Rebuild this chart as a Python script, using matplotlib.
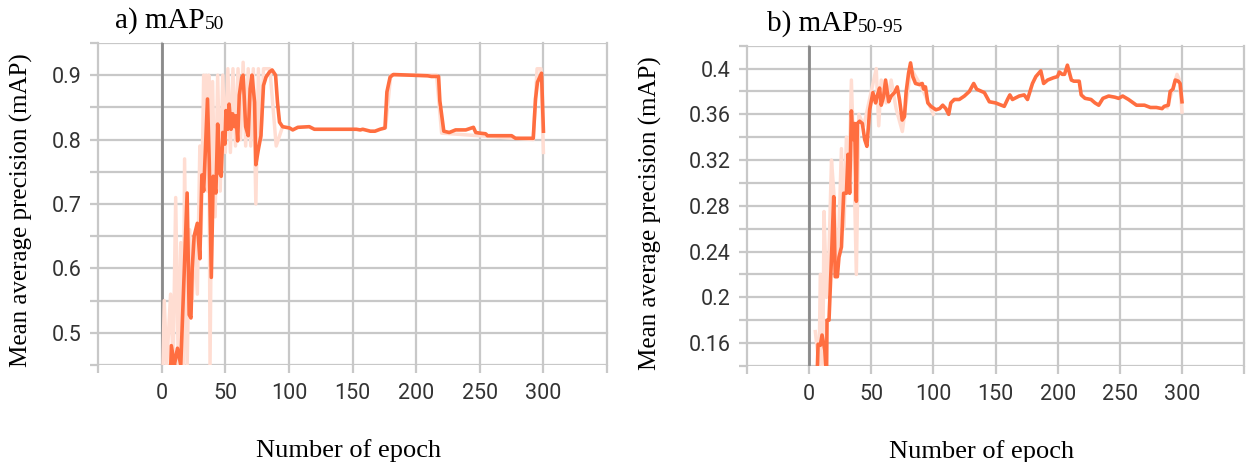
import numpy as np
import matplotlib
matplotlib.use("Agg")
import matplotlib.pyplot as plt
from matplotlib.ticker import FixedLocator, MultipleLocator, FuncFormatter

# ---- mAP50 (smoothed) ----
ep50 = [7, 7.6, 10, 12.4, 15, 20, 21.6, 23, 24, 25.5, 28, 30, 31.6, 33, 36, 37.4, 39,
        40.5, 42.6, 44, 45.5, 46.8, 48, 49.7, 50.5, 52, 53, 54.5, 55.8, 57, 58.4, 59.7,
        61, 63, 64, 66, 68, 69.5, 71, 73, 74, 76, 78, 80, 82, 84.7, 86.8, 89.5, 91,
        92.6, 95, 100.5, 103, 107, 116, 120, 153, 156, 158, 164, 167.6, 171.6, 175.5,
        177, 179.5, 182, 209, 212, 217.6, 218.6, 221.7, 226, 231, 239, 245, 246.8, 250,
        254.6, 256, 275, 278, 292, 293.8, 295.3, 298.5, 300]
map50 = [0.44, 0.48, 0.45, 0.476, 0.45, 0.717, 0.528, 0.523, 0.60, 0.65, 0.67, 0.615,
         0.745, 0.72, 0.863, 0.764, 0.586, 0.743, 0.717, 0.824, 0.748, 0.743, 0.811,
         0.793, 0.845, 0.816, 0.855, 0.816, 0.84, 0.82, 0.837, 0.798, 0.869, 0.897, 0.90,
         0.82, 0.806, 0.879, 0.90, 0.858, 0.761, 0.785, 0.806, 0.884, 0.897, 0.905, 0.908,
         0.90, 0.858, 0.827, 0.82, 0.818, 0.815, 0.819, 0.82, 0.816, 0.816, 0.815, 0.816,
         0.813, 0.813, 0.816, 0.818, 0.874, 0.897, 0.901, 0.899, 0.898, 0.898, 0.86,
         0.813, 0.811, 0.815, 0.815, 0.819, 0.811, 0.81, 0.809, 0.806, 0.806, 0.802,
         0.802, 0.863, 0.889, 0.903, 0.813]

# ---- mAP50 (raw, faint) ----
ep50_raw = [1, 2, 4, 7, 9, 11, 13, 15, 17, 18, 20, 22, 24, 26, 28, 30, 31, 33, 34, 35,
            36, 37, 38, 40, 42, 44, 46, 48, 50, 52, 54, 56, 58, 60, 62, 64, 66, 68, 70,
            72, 74, 76, 78, 80, 85, 90, 95]
map50_raw = [0.45, 0.55, 0.45, 0.56, 0.45, 0.71, 0.45, 0.64, 0.45, 0.77, 0.45, 0.66,
             0.55, 0.65, 0.56, 0.79, 0.65, 0.90, 0.75, 0.90, 0.72, 0.90, 0.45, 0.89,
             0.68, 0.90, 0.72, 0.90, 0.78, 0.91, 0.78, 0.91, 0.79, 0.91, 0.80, 0.92, 0.79,
             0.91, 0.79, 0.91, 0.70, 0.91, 0.80, 0.91, 0.91, 0.79, 0.82]
ep50_tail = [176, 180, 216, 220, 292, 295, 298, 300]
map50_tail = [0.82, 0.90, 0.90, 0.81, 0.80, 0.91, 0.91, 0.78]

# ---- mAP50-95 (smoothed) ----
ep5095 = [6.4, 7.2, 9, 10.4, 12.6, 14, 14.4, 16, 18, 19.8, 21, 22.7, 24, 26, 27.8, 30,
          31.3, 32.6, 34, 35.3, 36.6, 38, 38.8, 40.6, 42.8, 44.7, 46.5, 48.7, 51.3, 53.5,
          54.8, 56.7, 58, 60, 61.5, 64, 66, 68.7, 70.9, 72.7, 74.9, 76.7, 78, 80, 81.6,
          83.4, 85.6, 88.8, 91, 92.2, 93.6, 95.5, 98, 102, 105, 107.5, 110, 112.3, 114,
          116.8, 120.8, 124.9, 128.9, 132.4, 134.8, 141, 145, 150, 157, 159.6, 161.5,
          163.6, 169, 173, 175.7, 179.7, 182.4, 184, 186.4, 188.7, 191.9, 196.6, 199.8,
          201.4, 203.6, 205.5, 207.8, 211, 213, 217.3, 218.9, 222, 226.8, 230, 233, 236.4,
          241, 246, 249, 252.3, 257, 263.4, 269.8, 274.6, 279.4, 284, 285.7, 289, 290.5,
          292.7, 294.6, 297, 298.5, 300]
map5095 = [0.13, 0.159, 0.158, 0.167, 0.154, 0.13, 0.18, 0.18, 0.235, 0.288, 0.218,
           0.218, 0.235, 0.244, 0.291, 0.291, 0.325, 0.291, 0.363, 0.338, 0.352, 0.284,
           0.352, 0.354, 0.352, 0.338, 0.332, 0.364, 0.379, 0.37, 0.376, 0.383, 0.368,
           0.376, 0.39, 0.371, 0.376, 0.379, 0.384, 0.373, 0.355, 0.358, 0.379, 0.396,
           0.405, 0.393, 0.387, 0.386, 0.387, 0.382, 0.384, 0.37, 0.367, 0.364, 0.365,
           0.368, 0.365, 0.36, 0.37, 0.373, 0.373, 0.376, 0.38, 0.387, 0.382, 0.379, 0.371,
           0.37, 0.367, 0.373, 0.377, 0.373, 0.376, 0.377, 0.373, 0.387, 0.393, 0.395,
           0.398, 0.387, 0.39, 0.392, 0.393, 0.397, 0.395, 0.395, 0.403, 0.39, 0.389,
           0.389, 0.377, 0.374, 0.373, 0.37, 0.368, 0.374, 0.376, 0.375, 0.374, 0.376,
           0.373, 0.368, 0.368, 0.366, 0.366, 0.365, 0.367, 0.368, 0.38, 0.382, 0.39,
           0.389, 0.387, 0.371]

# ---- mAP50-95 (raw, faint) ----
ep5095_raw = [5, 8, 9, 11, 12, 14, 16, 18, 20, 22, 24, 26, 28, 30, 32, 34, 36, 38, 40,
              44, 50, 54, 56, 58, 62, 66, 70, 75, 78, 82, 90, 100]
map5095_raw = [0.17, 0.14, 0.22, 0.14, 0.275, 0.20, 0.24, 0.32, 0.29, 0.23, 0.26, 0.33,
               0.26, 0.34, 0.30, 0.39, 0.32, 0.22, 0.36, 0.35, 0.38, 0.40, 0.35, 0.39,
               0.37, 0.39, 0.365, 0.345, 0.37, 0.40, 0.385, 0.36]
ep5095_tail = [288, 292, 296, 298, 300]
map5095_tail = [0.366, 0.38, 0.395, 0.39, 0.362]

x_ticks = [-50, 0, 50, 100, 150, 200, 250, 300, 350]
x_labels = ["", "0", "50", "100", "150", "200", "250", "300", ""]

LINE = "#ff6e40"
RAW = "#ffddd2"
GRID = "#c8c8c8"
SERIF = "Liberation Serif"

fig = plt.figure(figsize=(12.46, 4.62), dpi=100)
ax1 = fig.add_axes([0.0787, 0.21, 0.4085, 0.697])
ax2 = fig.add_axes([0.5995, 0.208, 0.399, 0.693])


def style(ax, ylim, yticks, minor):
    ax.set_xlim(-50, 350)
    ax.set_ylim(*ylim)
    ax.xaxis.set_major_locator(FixedLocator(x_ticks))
    ax.set_xticklabels(x_labels)
    ax.set_yticks(yticks)
    ax.yaxis.set_major_formatter(FuncFormatter(lambda v, p: f"{v:g}"))
    ax.yaxis.set_minor_locator(MultipleLocator(minor))
    for s in ax.spines.values():
        s.set_visible(False)
    ax.grid(True, which="both", color=GRID, lw=1.6)
    for ln in ax.get_xgridlines() + ax.get_ygridlines():
        ln.set_clip_on(False)
    ax.tick_params(which="both", color=GRID, width=1.6, length=6,
                   labelcolor="#333333", labelsize=15.5)
    ax.tick_params(axis="x", pad=7)
    ax.tick_params(axis="y", pad=6)
    for lab in ax.get_xticklabels() + ax.get_yticklabels():
        lab.set_family("Roboto")
    ax.axvline(0, color="#8a8a8a", lw=2, zorder=1.5)
    ax.set_axisbelow(True)
    ax.set_xlabel("Number of epoch", family=SERIF, fontsize=19)
    ax.set_ylabel("Mean average precision (mAP)", family=SERIF, fontsize=18)


style(ax1, (0.45, 0.95), [0.5, 0.6, 0.7, 0.8, 0.9], 0.05)
ax1.plot(ep50_raw, map50_raw, color=RAW, lw=2.5, zorder=2)
ax1.plot(ep50_tail, map50_tail, color=RAW, lw=2.5, zorder=2)
ax1.plot(ep50, map50, color=LINE, lw=2.6, zorder=3)
ax1.xaxis.set_label_coords(0.493, -0.23)
ax1.yaxis.set_label_coords(-0.128, 0.481)

style(ax2, (0.14, 0.42), [0.16, 0.2, 0.24, 0.28, 0.32, 0.36, 0.4], 0.02)
ax2.plot(ep5095_raw, map5095_raw, color=RAW, lw=2.5, zorder=2)
ax2.plot(ep5095_tail, map5095_tail, color=RAW, lw=2.5, zorder=2)
ax2.plot(ep5095, map5095, color=LINE, lw=2.6, zorder=3)
ax2.xaxis.set_label_coords(0.471, -0.23)
ax2.yaxis.set_label_coords(-0.170, 0.478)

t1 = fig.text(115 / 1246, 1 - 21 / 462, "a) mAP", family=SERIF, fontsize=21,
              va="center", ha="left")
ax1.annotate("50", xy=(1, 0), xycoords=t1, xytext=(0, 1), textcoords="offset points",
             family=SERIF, fontsize=14, va="bottom", ha="left", annotation_clip=False)
t2 = fig.text(767 / 1246, 1 - 24 / 462, "b) mAP", family=SERIF, fontsize=21,
              va="center", ha="left")
ax2.annotate("50-95", xy=(1, 0), xycoords=t2, xytext=(0, 1), textcoords="offset points",
             family=SERIF, fontsize=14, va="bottom", ha="left", annotation_clip=False)

fig.savefig("out.png", dpi=100)
